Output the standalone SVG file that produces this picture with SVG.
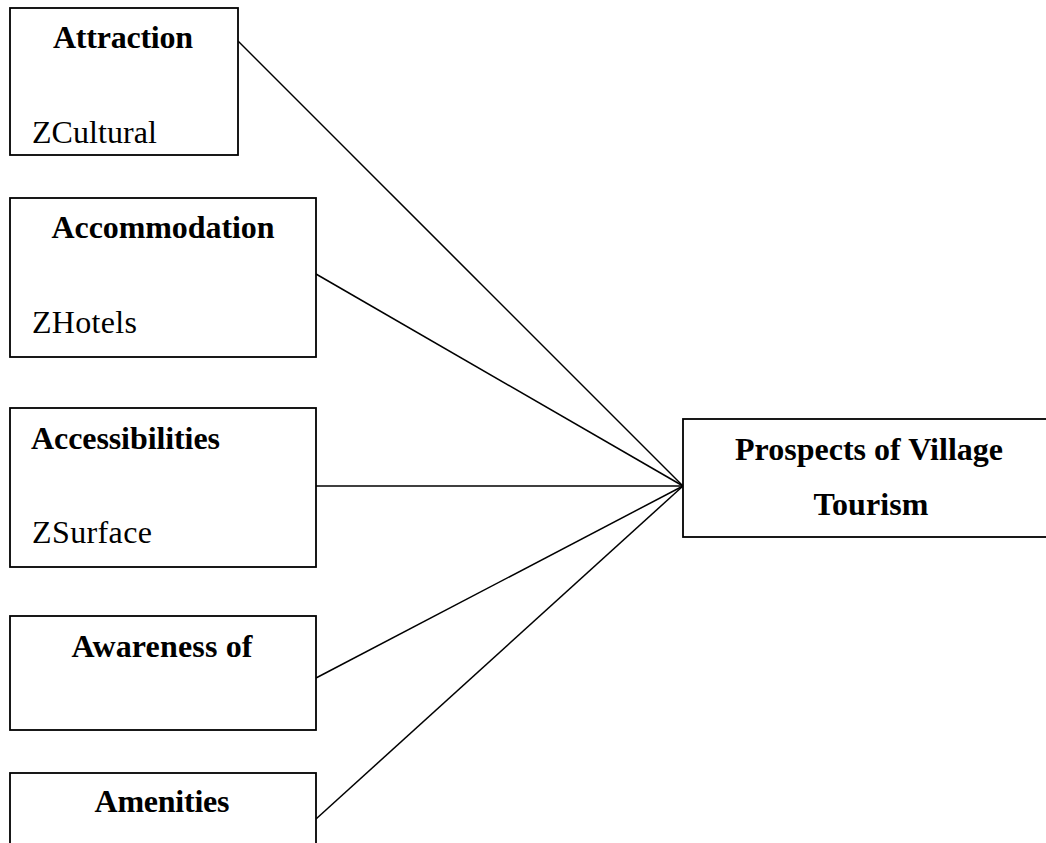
<svg xmlns="http://www.w3.org/2000/svg" width="1046" height="843" viewBox="0 0 1046 843">
<style>
.box{fill:#fff;stroke:#000;stroke-width:1.8}
.t{font-family:"Liberation Serif","Times New Roman",serif;font-size:32px;fill:#000}
.b{font-weight:bold}
.c{text-anchor:middle}
.ln{stroke:#000;stroke-width:1.5;fill:none}
</style>
<rect width="1046" height="843" fill="#fff"/>
<g id="connectors">
<line class="ln" x1="238" y1="41" x2="683" y2="486"/>
<line class="ln" x1="316" y1="274" x2="683" y2="486"/>
<line class="ln" x1="316" y1="486" x2="683" y2="486"/>
<line class="ln" x1="316" y1="678" x2="683" y2="486"/>
<line class="ln" x1="316" y1="819" x2="683" y2="486"/>
</g>
<g id="attraction">
<rect class="box" x="10" y="8" width="228" height="147"/>
<text class="t b c" x="123" y="48" textLength="140">Attraction</text>
<text class="t" x="32" y="143" textLength="125">ZCultural</text>
</g>
<g id="accommodation">
<rect class="box" x="10" y="198" width="306" height="159"/>
<text class="t b c" x="163" y="238" textLength="223">Accommodation</text>
<text class="t" x="32" y="333" textLength="105">ZHotels</text>
</g>
<g id="accessibilities">
<rect class="box" x="10" y="408" width="306" height="159"/>
<text class="t b" x="31" y="449" textLength="189">Accessibilities</text>
<text class="t" x="32" y="543" textLength="120">ZSurface</text>
</g>
<g id="awareness">
<rect class="box" x="10" y="616" width="306" height="114"/>
<text class="t b c" x="162" y="657" textLength="181">Awareness of</text>
</g>
<g id="amenities">
<rect class="box" x="10" y="773" width="306" height="90"/>
<text class="t b c" x="162" y="812" textLength="135">Amenities</text>
</g>
<g id="prospects">
<rect class="box" x="683" y="419" width="380" height="118"/>
<text class="t b c" x="869" y="460" textLength="268">Prospects of Village</text>
<text class="t b c" x="871" y="515" textLength="115">Tourism</text>
</g>
</svg>
